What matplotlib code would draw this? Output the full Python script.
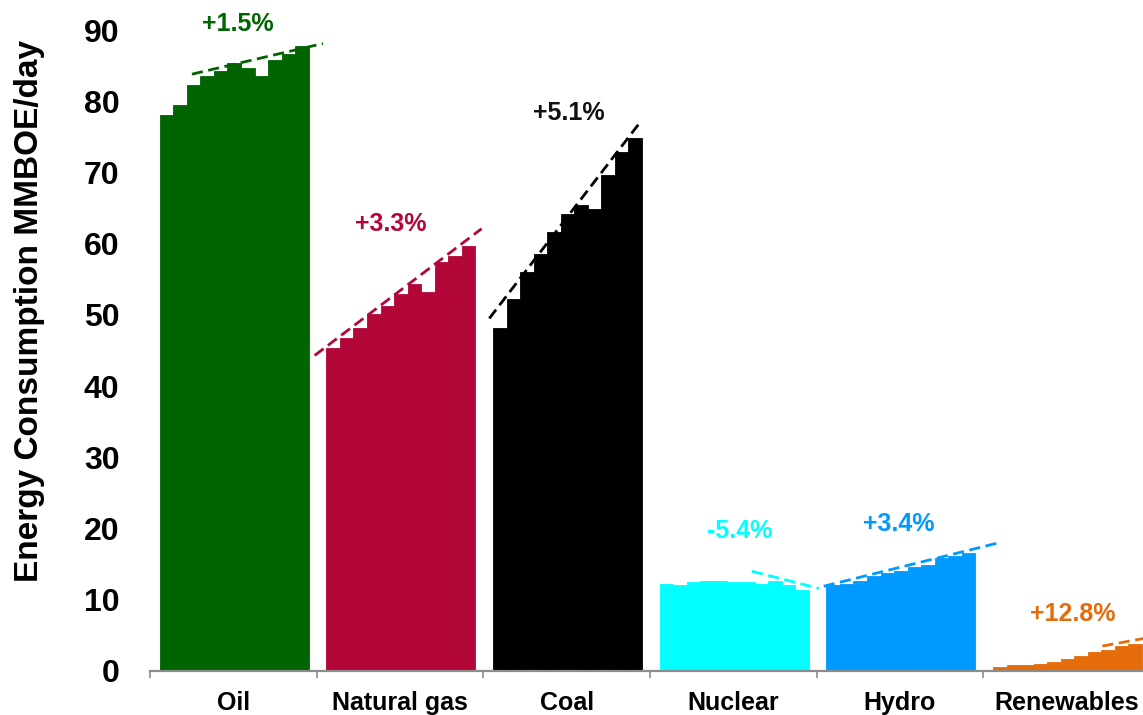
import numpy as np
import matplotlib.pyplot as plt

plt.rcParams['font.family'] = ['Liberation Sans', 'DejaVu Sans']
plt.rcParams['font.weight'] = 'bold'

# Daily energy consumption by source, 11 yearly values each (MMBOE/day)
sources = ["Oil", "Natural gas", "Coal", "Nuclear", "Hydro", "Renewables"]
oil = [78.0, 79.5, 82.3, 83.6, 84.3, 85.4, 84.6, 83.5, 85.8, 86.7, 87.7]
gas = [45.4, 46.7, 48.1, 50.1, 51.2, 52.9, 54.3, 53.2, 57.4, 58.3, 59.7]
coal = [48.2, 52.3, 56.0, 58.6, 61.7, 64.1, 65.4, 64.9, 69.6, 72.9, 74.9]
nuclear = [12.2, 12.1, 12.5, 12.7, 12.7, 12.5, 12.5, 12.2, 12.7, 12.1, 11.4]
hydro = [12.1, 12.2, 12.7, 13.3, 13.8, 14.1, 14.6, 14.9, 15.8, 16.1, 16.6]
renewables = [0.5, 0.8, 0.8, 1.0, 1.3, 1.7, 2.1, 2.6, 3.0, 3.5, 3.8]
series = [oil, gas, coal, nuclear, hydro, renewables]

# Annual growth rates and their trend lines (start / end value)
growth = ["+1.5%", "+3.3%", "+5.1%", "-5.4%", "+3.4%", "+12.8%"]
trend_start = [83.8, 44.3, 49.5, 14.0, 11.9, 3.5]
trend_end = [88.1, 62.1, 76.7, 11.6, 18.0, 4.9]
label_y = [90.9, 62.7, 78.3, 19.6, 20.6, 8.0]

colors = ["#006400", "#B20638", "#000000", "#00FFFF", "#0099FF", "#E46C0A"]
label_colors = ["#006400", "#B20638", "#111111", "#00FFFF", "#0099FF", "#E46C0A"]

# layout in bar-width units
group_w = 12.31
offset = 0.72
trend_x0 = [3.1, -0.15, 0.44, 7.53, 0.52, 8.79]
trend_x1 = [12.77, 12.18, 11.44, 12.48, 13.44, 12.8]
label_x = [6.5, 5.5, 6.3, 6.6, 6.05, 6.6]

fig = plt.figure(figsize=(11.43, 7.15), dpi=100)
ax = fig.add_axes([150 / 1143, 44 / 715, 1000 / 1143, 641 / 715])

for g, vals in enumerate(series):
    base = g * group_w
    x = base + offset + 0.5 + np.arange(len(vals))
    ax.bar(x, vals, width=1.0, color=colors[g], edgecolor=colors[g],
           linewidth=0.6, zorder=2)
    ax.plot([base + trend_x0[g], base + trend_x1[g]],
            [trend_start[g], trend_end[g]], color=colors[g], lw=2,
            dashes=(4, 2), clip_on=False, zorder=3)
    ax.text(base + label_x[g], label_y[g], growth[g], ha='center',
            va='center', fontsize=18, fontweight='bold',
            color=label_colors[g])

ax.set_xlim(0, 6 * group_w)
ax.set_ylim(0, 90)

for side in ["top", "right", "left"]:
    ax.spines[side].set_visible(False)
ax.spines["bottom"].set_color("#8C8C8C")
ax.spines["bottom"].set_linewidth(1.6)
ax.spines["bottom"].set_zorder(4)

ax.set_xticks([g * group_w for g in range(7)])
ax.set_xticklabels([])
ax.tick_params(axis='x', which='major', length=5, width=1.2,
               color="#8C8C8C", direction='out')
ax.set_xticks([g * group_w + group_w / 2 for g in range(6)], minor=True)
ax.set_xticklabels(sources, minor=True, fontsize=18, fontweight='bold')
ax.tick_params(axis='x', which='minor', length=0, pad=14.5)

ax.set_yticks(np.arange(0, 91, 10))
ax.tick_params(axis='y', length=0, pad=22, labelsize=23)
for t in ax.get_yticklabels():
    t.set_fontweight('bold')

ax.set_ylabel("Energy Consumption MMBOE/day", fontsize=24, fontweight='bold')
ax.yaxis.set_label_coords(-0.105, 0.5625)

fig.savefig("out.png", dpi=100)
